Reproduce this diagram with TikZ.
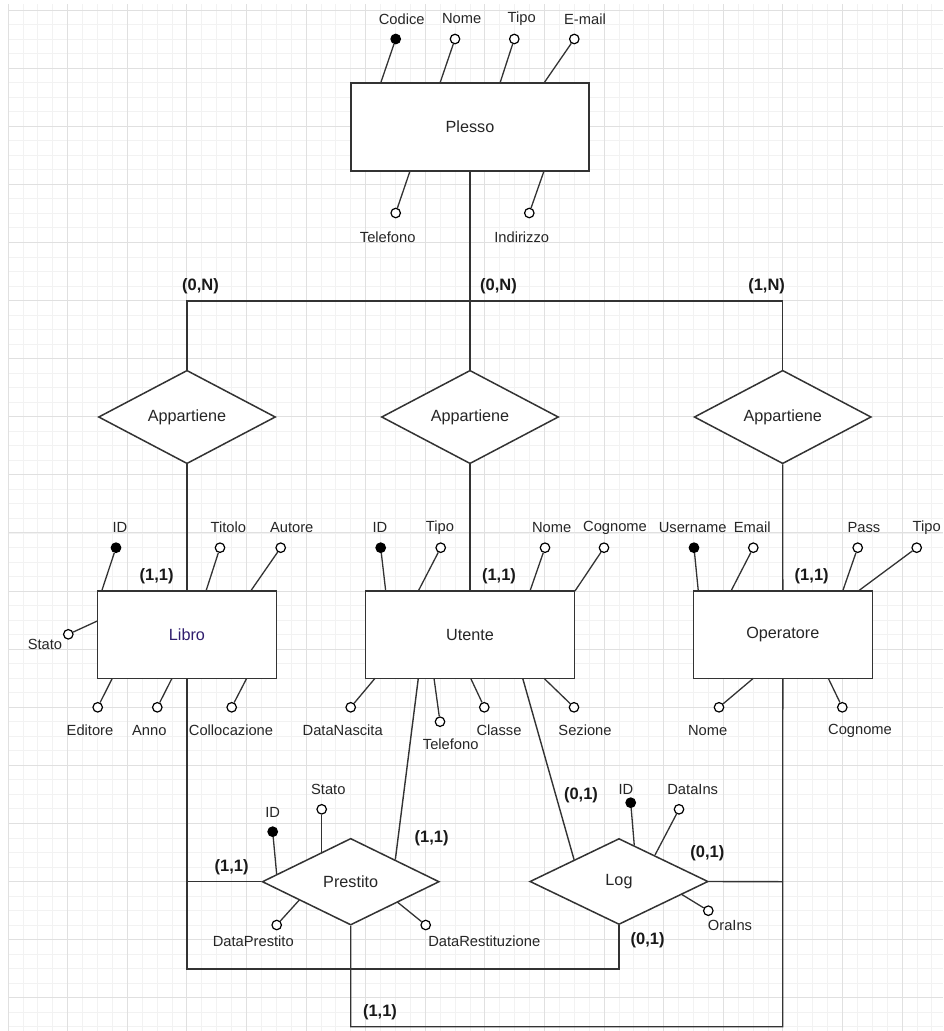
\documentclass[tikz,border=0pt]{standalone}
\usepackage{fontspec}
\setmainfont{Liberation Sans}
\usetikzlibrary{positioning,shapes.geometric,calc}
\definecolor{edgegray}{RGB}{51,51,51}
\definecolor{txtgray}{RGB}{38,38,38}
\definecolor{libink}{RGB}{48,30,110}
\definecolor{gridmaj}{RGB}{224,224,224}
\definecolor{gridmin}{RGB}{242,242,242}
\newcommand{\attrfont}{\fontsize{14.7}{17}\selectfont}
\newcommand{\entfont}{\fontsize{16.2}{19}\selectfont}
\newcommand{\cardfont}{\fontsize{16.5}{19}\selectfont\bfseries}

\begin{document}
\begin{tikzpicture}[x=1pt,y=-1pt,
  link/.style={draw=edgegray,line width=1.4pt},
  entity/.style={draw=edgegray,line width=1.5pt,fill=white,minimum height=87.5pt,inner sep=0pt,font=\entfont,text=txtgray},
  relation/.style={diamond,draw=edgegray,line width=1.5pt,fill=white,minimum width=177pt,minimum height=87pt,inner sep=0pt,font=\entfont,text=txtgray},
  attrdot/.style={circle,draw=black,line width=1.2pt,minimum size=9.5pt,inner sep=0pt},
  attrlabel/.style={font=\attrfont,text=txtgray,inner sep=0pt},
  card/.style={font=\cardfont,text=black!90,inner sep=0pt}]
\useasboundingbox (0,0) rectangle (943,1031);
\fill[white] (0,0) rectangle (943,1031);
% grid
\foreach \i in {0,...,62} \draw[gridmin,line width=0.8pt] ({8+14.9*\i},4) -- ({8+14.9*\i},1031);
\foreach \j in {0,...,70} \draw[gridmin,line width=0.8pt] (8,{10+14.525*\j}) -- (943,{10+14.525*\j});
\foreach \i in {0,...,15} \draw[gridmaj,line width=0.9pt] ({8+59.6*\i},4) -- ({8+59.6*\i},1031);
\foreach \j in {0,...,17} \draw[gridmaj,line width=0.9pt] (8,{10+58.1*\j}) -- (943,{10+58.1*\j});

% entities
\node[entity,minimum width=238pt,minimum height=88pt] (plesso) at (470,127) {Plesso};
\node[entity,minimum width=179.4pt,text=libink] (libro) at (187,634.7) {Libro};
\node[entity,minimum width=208.6pt] (utente) at (470,634.7) {Utente};
\node[entity,minimum width=179pt] (operatore) at (782.8,634.7) {Operatore};

% relationships
\node[relation] (relLib) at (187,417) {Appartiene};
\node[relation] (relUte) at (470,417) {Appartiene};
\node[relation] (relOpe) at (782.7,417) {Appartiene};
\node[relation,minimum height=86.7pt] (prestito) at (350.7,881.7) {Prestito};
\node[relation,minimum width=178.3pt,minimum height=86pt] (log) at (619,881.5) {Log};

% connectors
\coordinate (jLib) at (187,301);
\coordinate (jOpe) at (782.7,301);
\draw[link] (plesso.south) -- (relUte.north);
\draw[link] (relLib.north) -- (jLib) -- (jOpe) -- (relOpe.north);
\draw[link] (relLib.south) -- (libro.north);
\draw[link] (relUte.south) -- (utente.north);
\draw[link] (relOpe.south) -- (operatore.north);
\draw[link] (libro.south) |- (prestito.west);
\coordinate (jLibLog) at (187,969);
\draw[link] (libro.south) -- (jLibLog) -| (log.south);
\coordinate (uPre) at (418.3,678.3);
\coordinate (uLog) at (522.7,678.3);
\draw[link] (uPre) -- ($(prestito.north)!0.5!(prestito.east)$);
\draw[link] (uLog) -- ($(log.north)!0.5!(log.west)$);
\coordinate (jOpLog) at (782.7,881.7);
\coordinate (jOpBot) at (782.7,1026.7);
\draw[link] (operatore.south) -- (jOpBot) -| (prestito.south);
\draw[link] (log.east) -- (jOpLog);

% attributes: name/start/circle/fill/text/label
\foreach \nm/\st/\ci/\fl/\tx/\lp in {
  pCod/{380.7,83}/{395.7,39}/black/Codice/{401.7,19},
  pNom/{440,83}/{455,39}/white/Nome/{461.7,19},
  pTip/{500,83}/{514.3,39}/white/Tipo/{521.7,19},
  pMail/{544,83}/{574.3,39}/white/E-mail/{585,19},
  pTel/{410,171}/{395.7,213}/white/Telefono/{387.7,237},
  pInd/{544,171}/{529.3,213}/white/Indirizzo/{521.7,237},
  lId/{101.7,591}/{116,547.7}/black/ID/{120,527.7},
  lTit/{206,591}/{220,547.7}/white/Titolo/{228.3,527.7},
  lAut/{250.7,591}/{280.7,547.7}/white/Autore/{291.7,527.7},
  lSta/{97.3,621}/{68.3,634.3}/white/Stato/{45,644},
  lEdi/{112.3,678.3}/{97.7,707.3}/white/Editore/{90,730.7},
  lAnn/{172,678.3}/{157.3,707.3}/white/Anno/{149.3,730.7},
  lCol/{246.7,678.3}/{231.7,707.3}/white/Collocazione/{231,730.7},
  uId/{385.7,591}/{380.7,547.7}/black/ID/{380,527.7},
  uTip/{418.3,591}/{440.7,547.7}/white/Tipo/{440,527.7},
  uNom/{530,591}/{545,547.7}/white/Nome/{551.7,527.7},
  uCog/{575,591}/{604,547.7}/white/Cognome/{615,527.7},
  uNas/{375,678.3}/{350.7,707.3}/white/DataNascita/{342.7,730.7},
  uTel/{434,678.3}/{440,721.7}/white/Telefono/{450.7,744.3},
  uCla/{470.7,678.3}/{484.3,707.3}/white/Classe/{499,730.7},
  uSez/{544,678.3}/{574,707.3}/white/Sezione/{585,730.7},
  oUsr/{698.3,591}/{694,547.7}/black/Username/{692.7,527.7},
  oMail/{731,591}/{753.3,547.7}/white/Email/{752.3,527.7},
  oPas/{842.7,591}/{857.7,547.7}/white/Pass/{864,527.7},
  oTip/{858.3,591}/{916.7,547.7}/white/Tipo/{926.7,527.7},
  oNom/{753.3,678.3}/{719,707.3}/white/Nome/{707.7,730.7},
  oCog/{828.3,678.3}/{842.3,707.3}/white/Cognome/{860,730.7},
  prId/{276.7,874.6}/{272.7,831.7}/black/ID/{272.7,812.7},
  prSta/{321.7,852.5}/{321.7,809.3}/white/Stato/{328.3,789.3},
  prDP/{299.3,900}/{276.7,925}/white/DataPrestito/{253.3,941.7},
  prDR/{397.3,902}/{425.7,925}/white/DataRestituzione/{484.3,941.7},
  lgId/{634.3,845.5}/{630.7,802.7}/black/ID/{626,789.3},
  lgDI/{655,855}/{679,809.3}/white/DataIns/{692.7,789.3},
  lgOI/{681.7,894.4}/{708.3,910.7}/white/OraIns/{730,925.7}}{
  \coordinate (\nm-s) at (\st);
  \node[attrdot,fill=\fl] (\nm) at (\ci) {};
  \draw[link,line width=1.3pt] (\nm-s) -- (\nm);
  \node[attrlabel] (\nm-t) at (\lp) {\tx};
}

% cardinalities
\foreach \nm/\lp/\tx in {
  cLib/{200.5,286}/{(0,N)}, cUte/{498.5,286}/{(0,N)}, cOpe/{766.6,286}/{(1,N)},
  cLibA/{156.7,576.7}/{(1,1)}, cUteA/{499,576.7}/{(1,1)}, cOpeA/{811.7,576.7}/{(1,1)},
  cPrL/{231.7,867.3}/{(1,1)}, cPrU/{431.7,838.3}/{(1,1)}, cPrO/{380,1012.3}/{(1,1)},
  cLgU/{581,795}/{(0,1)}, cLgO/{707.3,853.3}/{(0,1)}, cLgL/{647.7,940.7}/{(0,1)}}{
  \node[card] (\nm) at (\lp) {\tx};
}
\end{tikzpicture}
\end{document}
